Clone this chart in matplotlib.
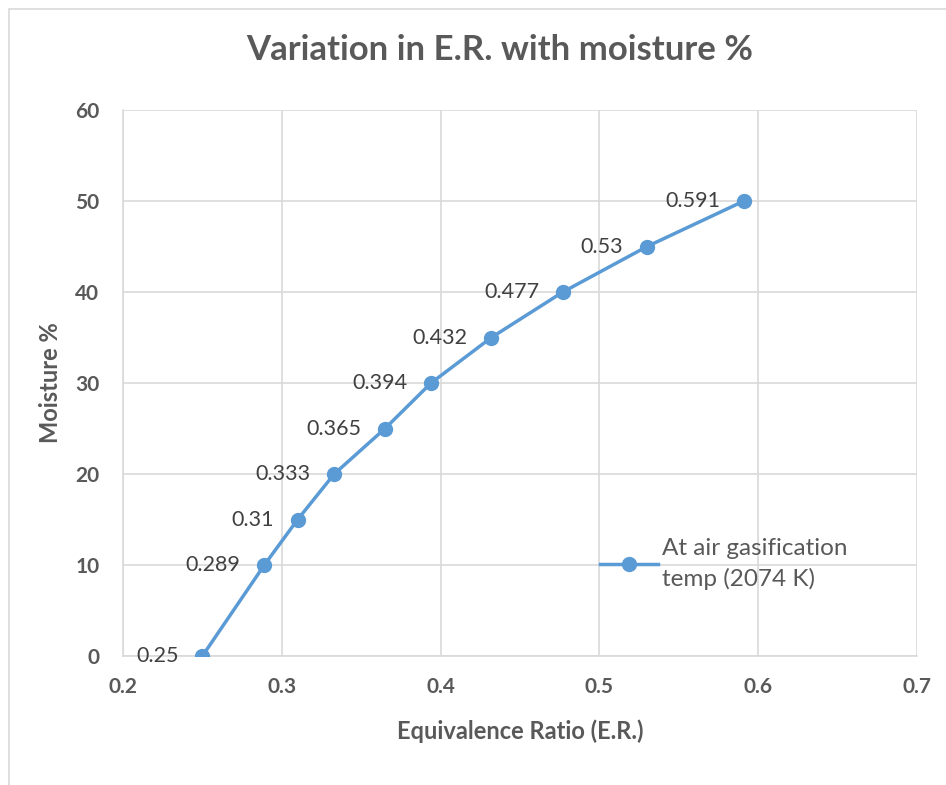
import matplotlib
matplotlib.use("Agg")
import matplotlib.pyplot as plt
from matplotlib.patches import Rectangle

# Data
er = [0.25, 0.289, 0.31, 0.333, 0.365, 0.394, 0.432, 0.477, 0.53, 0.591]
moisture = [0, 10, 15, 20, 25, 30, 35, 40, 45, 50]
point_labels = ["0.25", "0.289", "0.31", "0.333", "0.365", "0.394", "0.432", "0.477", "0.53", "0.591"]
x_ticks = [0.2, 0.3, 0.4, 0.5, 0.6, 0.7]
y_ticks = [0, 10, 20, 30, 40, 50, 60]

plt.rcParams['font.family'] = ['Lato', 'DejaVu Sans']
text_col = '#595959'
line_col = '#5B9BD5'

fig = plt.figure(figsize=(9.46, 7.85), dpi=100)
ax = fig.add_axes([123 / 946, 1 - 656 / 785, (917 - 123) / 946, (656 - 110) / 785])

# chart border (cropped on right/bottom)
fig.patches.append(Rectangle((9 / 946, -0.1), 1.2, 1 - 9 / 785 + 0.1,
                             transform=fig.transFigure, fill=False,
                             edgecolor='#D9D9D9', linewidth=1.2))

ax.plot(er, moisture, color=line_col, linewidth=2.5, marker='o', markersize=10,
        label="At air gasification\ntemp (2074 K)", zorder=3)

for x, y, s in zip(er, moisture, point_labels):
    ax.annotate(s, (x, y), xytext=(-17, 0), textcoords='offset points',
                ha='right', va='center', fontsize=15.5, color='#404040')

ax.set_xlim(0.2, 0.7)
ax.set_ylim(0, 60)
ax.set_xticks(x_ticks)
ax.set_yticks(y_ticks)
ax.set_xticklabels([str(t) for t in x_ticks])
ax.tick_params(length=0, labelsize=15, colors=text_col)
ax.tick_params(axis='x', pad=15)
ax.tick_params(axis='y', pad=17)
for lab in ax.get_xticklabels() + ax.get_yticklabels():
    lab.set_fontweight('bold')
ax.grid(True, color='#D9D9D9', linewidth=1.2)
ax.set_axisbelow(True)
for side in ['top', 'right']:
    ax.spines[side].set_visible(False)
for side in ['left', 'bottom']:
    ax.spines[side].set_color('#D9D9D9')
    ax.spines[side].set_linewidth(1.2)

ax.set_xlabel('Equivalence Ratio (E.R.)', fontsize=17, fontweight='bold', color=text_col, labelpad=16)
ax.set_ylabel('Moisture %', fontsize=17, fontweight='bold', color=text_col)
ax.yaxis.set_label_coords(-61 / 794, 0.5)
fig.text(500 / 946, 1 - 50 / 785, 'Variation in E.R. with moisture %', ha='center', va='center',
         fontsize=25, fontweight='bold', color=text_col)

leg = ax.legend(loc='center left', bbox_to_anchor=(0.573, 0.168), frameon=False,
                fontsize=17.5, handlelength=2.4, labelcolor=text_col, handletextpad=0.15)
for t in leg.get_texts():
    t.set_linespacing(1.5)

fig.savefig('out.png', dpi=100)
